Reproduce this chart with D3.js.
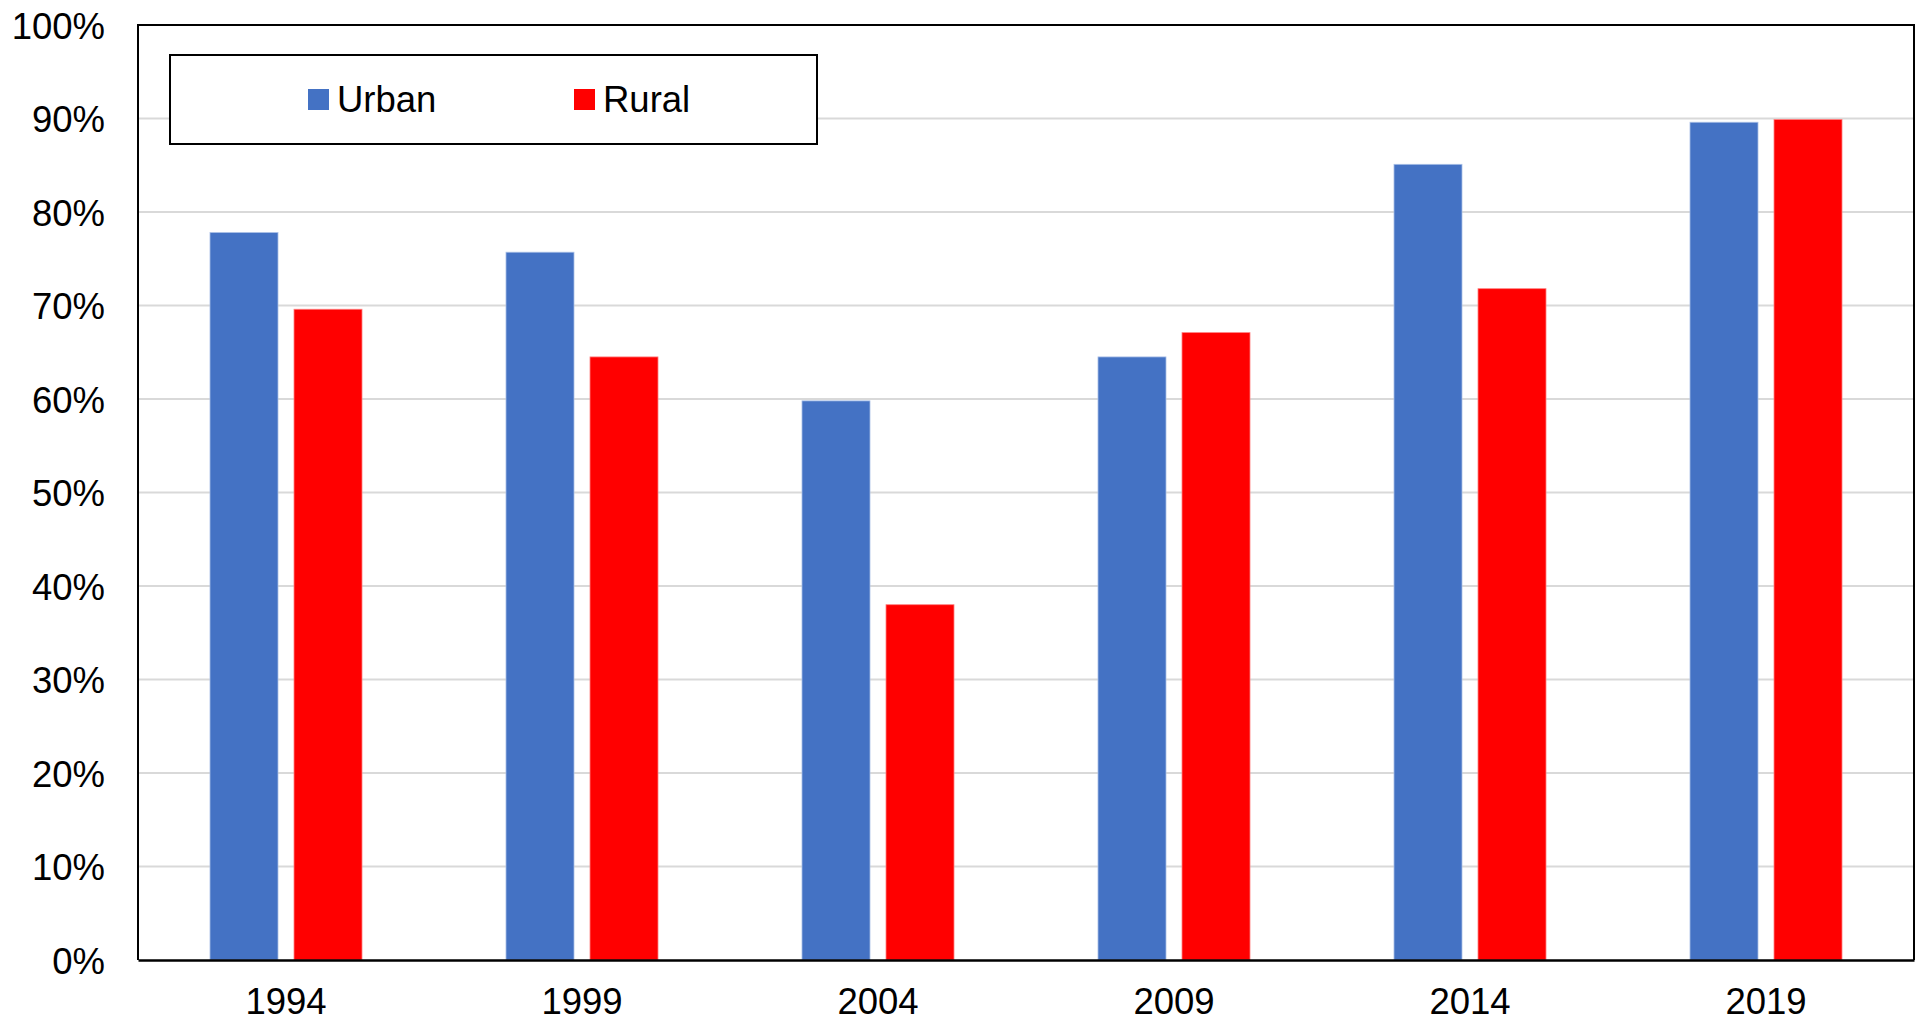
<!DOCTYPE html>
<html>
<head>
<meta charset="utf-8">
<script src="https://cdn.jsdelivr.net/npm/d3@7"></script>
<style>
  html, body { margin: 0; padding: 0; background: #fff; }
  svg { display: block; }
  text { font-family: "Liberation Sans", Arial, sans-serif; fill: #000; }
</style>
</head>
<body>
<svg id="chart" width="1915" height="1023"></svg>
<script>
const categories = ["1994", "1999", "2004", "2009", "2014", "2019"];
const seriesNames = ["Urban", "Rural"];
const urban = [77.8, 75.7, 59.8, 64.5, 85.1, 89.6];
const rural = [69.6, 64.5, 38.0, 67.1, 71.8, 89.9];
const yTicks = [0, 10, 20, 30, 40, 50, 60, 70, 80, 90, 100];
const colors = { Urban: "#4472C4", Rural: "#FF0000" };
const strokes = { Urban: "#a9bfe6", Rural: "#ff8080" };

(function () {
const svg = d3.select("#chart");
const pLeft = 138, pRight = 1914, pTop = 25, pBottom = 960;
const fs = 36.5;

const x = d3.scaleBand().domain(categories).range([pLeft, pRight]).padding(0);
const xInner = d3.scaleBand().domain(seriesNames).range([0, x.bandwidth()])
  .paddingInner(0.1905).paddingOuter(0.857);
const y = d3.scaleLinear().domain([0, 100]).range([pBottom, pTop]);

// gridlines
svg.append("g").selectAll("line").data(yTicks.filter(t => t > 0 && t < 100)).join("line")
  .attr("x1", pLeft).attr("x2", pRight)
  .attr("y1", d => y(d)).attr("y2", d => y(d))
  .attr("stroke", "#d9d9d9").attr("stroke-width", 2);

// bars
const rows = categories.map((c, i) => ({ cat: c, Urban: urban[i], Rural: rural[i] }));
const groups = svg.append("g").selectAll("g").data(rows).join("g")
  .attr("transform", d => `translate(${x(d.cat)},0)`);
groups.selectAll("rect").data(d => seriesNames.map(s => ({ s, v: d[s] }))).join("rect")
  .attr("x", d => xInner(d.s))
  .attr("width", xInner.bandwidth())
  .attr("y", d => y(d.v))
  .attr("height", d => y(0) - y(d.v))
  .attr("fill", d => colors[d.s])
  .attr("stroke", d => strokes[d.s]).attr("stroke-width", 0.8);

// plot border (left, top, right)
svg.append("path")
  .attr("d", `M${pLeft},${pBottom} L${pLeft},${pTop} L${pRight},${pTop} L${pRight},${pBottom}`)
  .attr("fill", "none").attr("stroke", "#000").attr("stroke-width", 2);

// y axis labels
const yAxis = d3.axisLeft(y).tickValues(yTicks).tickFormat(d => d + "%").tickSize(0).tickPadding(0);
const gy = svg.append("g").attr("transform", `translate(105,0)`).call(yAxis);
gy.select(".domain").remove();
gy.selectAll("text").attr("font-size", fs).attr("font-family", "Liberation Sans, Arial, sans-serif")
  .attr("fill", "#000").attr("dy", "0.36em");

// x axis
const xAxis = d3.axisBottom(x).tickSize(0).tickPadding(0);
const gx = svg.append("g").attr("transform", `translate(0,${pBottom})`).call(xAxis);
gx.select(".domain").attr("stroke", "#000").attr("stroke-width", 2.5);
gx.selectAll("text").attr("font-size", fs).attr("font-family", "Liberation Sans, Arial, sans-serif")
  .attr("fill", "#000").attr("dy", null).attr("y", 54);

// legend
const lg = svg.append("g");
lg.append("rect").attr("x", 170).attr("y", 55).attr("width", 647).attr("height", 89)
  .attr("fill", "#fff").attr("stroke", "#000").attr("stroke-width", 2);
const legendX = { Urban: 308, Rural: 574 };
seriesNames.forEach(s => {
  lg.append("rect").attr("x", legendX[s]).attr("y", 89).attr("width", 21).attr("height", 21)
    .attr("fill", colors[s]);
  lg.append("text").attr("x", legendX[s] + 29).attr("y", 112).attr("font-size", fs).text(s);
});
})();
</script>
</body>
</html>
